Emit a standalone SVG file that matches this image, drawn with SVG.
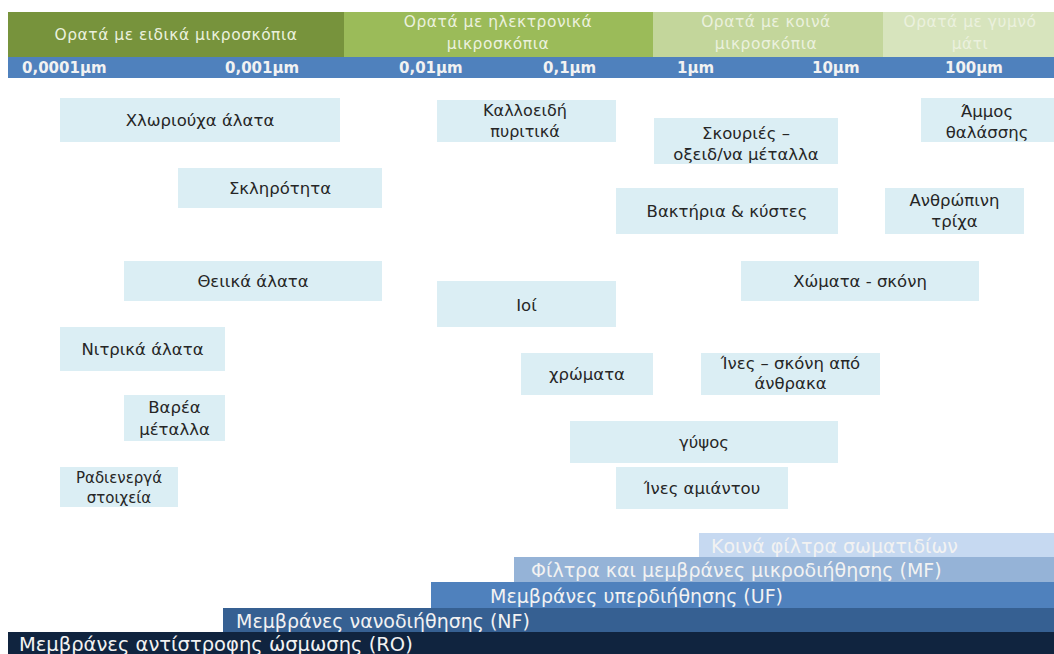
<svg xmlns="http://www.w3.org/2000/svg" width="1054" height="654" viewBox="0 0 1054 654">
<style>
.n{fill:#DBEEF4}
.t{font-family:"DejaVu Sans","Liberation Sans",sans-serif;font-size:16.5px;fill:#262626;text-anchor:middle;dominant-baseline:central}
.h{font-family:"DejaVu Sans","Liberation Sans",sans-serif;font-size:15.5px;letter-spacing:0.5px;fill:#EBF1DE;text-anchor:middle;dominant-baseline:central}
.s{font-family:"DejaVu Sans","Liberation Sans",sans-serif;font-size:15px;font-weight:bold;fill:#F2F2F2;dominant-baseline:central}
.b{font-family:"DejaVu Sans","Liberation Sans",sans-serif;font-size:19px;fill:#F2F2F2;dominant-baseline:central}
</style>
<rect width="1054" height="654" fill="#ffffff"/>
<g id="header">
<rect x="8" y="12" width="336" height="45" fill="#77933C"/>
<rect x="344" y="12" width="309" height="45" fill="#9BBB59"/>
<rect x="653" y="12" width="230" height="45" fill="#C3D69B"/>
<rect x="883" y="12" width="171" height="45" fill="#D7E4BD"/>
<text class="h" x="176" y="35">Ορατά με ειδικά μικροσκόπια</text>
<text class="h" x="498" y="22">Ορατά με ηλεκτρονικά</text>
<text class="h" x="498" y="44">μικροσκόπια</text>
<text class="h" x="766" y="22" fill="#F4F7EC">Ορατά με κοινά</text>
<text class="h" x="766" y="44" fill="#F4F7EC">μικροσκόπια</text>
<text class="h" x="970" y="22" fill="#F4F7EC">Ορατά με γυμνό</text>
<text class="h" x="970" y="44" fill="#F4F7EC">μάτι</text>
</g>
<g id="scale">
<rect x="8" y="57" width="1046" height="21" fill="#4F81BD"/>
<text class="s" x="22" y="68">0,0001µm</text>
<text class="s" x="225" y="68">0,001µm</text>
<text class="s" x="399" y="68">0,01µm</text>
<text class="s" x="543" y="68">0,1µm</text>
<text class="s" x="677" y="68">1µm</text>
<text class="s" x="812" y="68">10µm</text>
<text class="s" x="945" y="68">100µm</text>
</g>
<g id="n1"><rect class="n" x="60" y="98" width="280" height="44"/><text class="t" x="200" y="120">Χλωριούχα άλατα</text></g>
<g id="n2"><rect class="n" x="178" y="168" width="204" height="40"/><text class="t" x="280" y="188">Σκληρότητα</text></g>
<g id="n3"><rect class="n" x="124" y="261" width="258" height="40"/><text class="t" x="253" y="281">Θειικά άλατα</text></g>
<g id="n4"><rect class="n" x="60" y="327" width="165" height="44"/><text class="t" x="142.5" y="349">Νιτρικά άλατα</text></g>
<g id="n5"><rect class="n" x="124" y="395" width="101" height="46"/><text class="t" x="174.5" y="407">Βαρέα</text><text class="t" x="174.5" y="429">μέταλλα</text></g>
<g id="n6"><rect class="n" x="60" y="467" width="118" height="40"/><text class="t" x="119" y="478" style="font-size:15px">Ραδιενεργά</text><text class="t" x="119" y="498" style="font-size:15px">στοιχεία</text></g>
<g id="n7"><rect class="n" x="437" y="100" width="179" height="42"/><text class="t" x="525" y="110" style="font-size:16px">Καλλοειδή</text><text class="t" x="525" y="131" style="font-size:16px">πυριτικά</text></g>
<g id="n8"><rect class="n" x="437" y="281" width="179" height="46"/><text class="t" x="526.5" y="305">Ιοί</text></g>
<g id="n9"><rect class="n" x="654" y="118" width="184" height="46"/><text class="t" x="746" y="133">Σκουριές –</text><text class="t" x="746" y="154">οξειδ/να μέταλλα</text></g>
<g id="n10"><rect class="n" x="616" y="188" width="222" height="46"/><text class="t" x="727" y="211">Βακτήρια &amp; κύστες</text></g>
<g id="n11"><rect class="n" x="921" y="98" width="133" height="44"/><text class="t" x="987" y="111">Άμμος</text><text class="t" x="987" y="132">θαλάσσης</text></g>
<g id="n12"><rect class="n" x="885" y="188" width="139" height="46"/><text class="t" x="954.5" y="200">Ανθρώπινη</text><text class="t" x="954.5" y="221">τρίχα</text></g>
<g id="n13"><rect class="n" x="741" y="261" width="238" height="40"/><text class="t" x="860" y="281">Χώματα - σκόνη</text></g>
<g id="n14"><rect class="n" x="521" y="353" width="132" height="42"/><text class="t" x="587" y="374">χρώματα</text></g>
<g id="n15"><rect class="n" x="701" y="353" width="179" height="42"/><text class="t" x="790.5" y="363">Ίνες – σκόνη από</text><text class="t" x="790.5" y="383">άνθρακα</text></g>
<g id="n16"><rect class="n" x="570" y="421" width="268" height="42"/><text class="t" x="704" y="442">γύψος</text></g>
<g id="n17"><rect class="n" x="616" y="467" width="172" height="42"/><text class="t" x="702" y="488">Ίνες αμιάντου</text></g>
<g id="bars">
<rect x="699" y="533" width="355" height="24" fill="#C6D9F1"/>
<text class="b" x="711" y="546" fill="#F7FAFD">Κοινά φίλτρα σωματιδίων</text>
<rect x="514" y="557" width="540" height="25" fill="#95B3D7"/>
<text class="b" x="531" y="570">Φίλτρα και μεμβράνες μικροδιήθησης (MF)</text>
<rect x="431" y="582" width="623" height="26" fill="#4F81BD"/>
<text class="b" x="490" y="596">Μεμβράνες υπερδιήθησης (UF)</text>
<rect x="223" y="608" width="831" height="24" fill="#366092"/>
<text class="b" x="236" y="621">Μεμβράνες νανοδιήθησης (NF)</text>
<rect x="8" y="632" width="1046" height="22" fill="#10243F"/>
<text class="b" x="19" y="644" style="font-size:19.5px">Μεμβράνες αντίστροφης ώσμωσης (RO)</text>
</g>
</svg>
